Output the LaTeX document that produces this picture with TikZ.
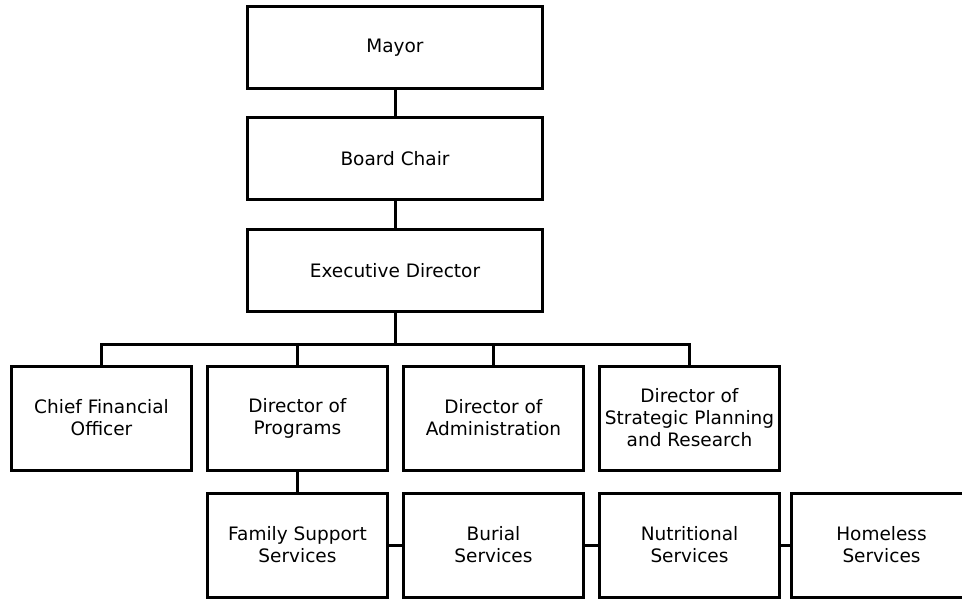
\documentclass[tikz,border=0pt]{standalone}
\usepackage{fontspec}
\setmainfont{DejaVu Sans}
\begin{document}
\begin{tikzpicture}[x=1pt,y=-1pt,
  topbox/.style={draw=black,line width=3pt,minimum width=295pt,minimum height=82pt,inner sep=0pt,align=center,font=\fontsize{18.5}{22}\selectfont},
  orgbox/.style={draw=black,line width=3pt,minimum width=180pt,minimum height=104pt,inner sep=0pt,align=center,font=\fontsize{18.5}{22}\selectfont},
  link/.style={line width=3pt}]
\useasboundingbox (0,0) rectangle (962,599);
\begin{scope}
\clip (0,0) rectangle (962,599);
\node[topbox] (mayor) at (395,47.5) {Mayor};
\node[topbox] (board) at (395,159) {Board Chair};
\node[topbox] (exec) at (395,270.5) {Executive Director};
\node[orgbox] (cfo) at (101.5,418) {Chief Financial\\Officer};
\node[orgbox] (prog) at (297.5,418) {Director of\\Programs};
\node[orgbox] (admin) at (493.5,418) {Director of\\Administration};
\node[orgbox] (strat) at (689.5,418) {Director of\\Strategic Planning\\and Research};
\node[orgbox] (family) at (297.5,545) {Family Support\\Services};
\node[orgbox] (burial) at (493.5,545) {Burial\\Services};
\node[orgbox] (nutri) at (689.5,545) {Nutritional\\Services};
\node[orgbox] (homeless) at (881.5,545) {Homeless\\Services};
\coordinate (bus) at (395,344.5);
\draw[link] (mayor) -- (board);
\draw[link] (board) -- (exec);
\draw[link] (exec.south) -- (bus);
\draw[link] (cfo.north) |- (bus) -| (strat.north);
\draw[link] (prog.north) -- (prog.north |- bus);
\draw[link] (admin.north) -- (admin.north |- bus);
\draw[link] (prog) -- (family);
\draw[link] (family) -- (burial);
\draw[link] (burial) -- (nutri);
\draw[link] (nutri) -- (homeless);
\end{scope}
\end{tikzpicture}
\end{document}
